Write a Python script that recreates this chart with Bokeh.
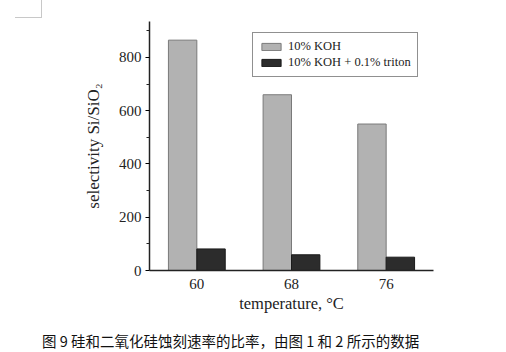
from bokeh.plotting import figure
from bokeh.models import ColumnDataSource, FactorRange, Legend, LegendItem, Div, FixedTicker
from bokeh.layouts import column
from bokeh.transform import dodge
from bokeh.embed import file_html
from bokeh.resources import INLINE

temps = ["60", "68", "76"]
koh = [865, 660, 550]
koh_triton = [81, 59, 50]
series_labels = ["10% KOH", "10% KOH + 0.1% triton"]
caption = "图 9 硅和二氧化硅蚀刻速率的比率，由图 1 和 2 所示的数据"

src = ColumnDataSource(dict(t=temps, a=koh, b=koh_triton))

p = figure(width=506, height=322, x_range=FactorRange(*temps, range_padding=0),
           y_range=(0, 935), output_backend="svg", toolbar_location=None,
           min_border_left=149, min_border_right=73, min_border_top=21, min_border_bottom=52)
p.outline_line_color = None
p.grid.visible = False
p.background_fill_color = "white"
p.border_fill_color = "white"

r1 = p.vbar(x=dodge("t", -0.15, range=p.x_range), top="a", width=0.3, source=src,
            fill_color="#b2b2b2", line_color="#7a7a7a", line_width=1)
r2 = p.vbar(x=dodge("t", 0.15, range=p.x_range), top="b", width=0.3, source=src,
            fill_color="#2c2c2c", line_color="#1a1a1a", line_width=1)

serif = "Liberation Serif"
for ax in (p.xaxis[0], p.yaxis[0]):
    ax.axis_line_width = 1.5
    ax.axis_line_color = "#222222"
    ax.major_label_text_font = serif
    ax.major_label_text_font_size = "15px"
    ax.major_label_text_color = "#222222"
    ax.axis_label_text_font = serif
    ax.axis_label_text_font_style = "normal"
    ax.axis_label_text_color = "#222222"

p.xaxis.axis_label = "temperature, °C"
p.xaxis.axis_label_text_font_size = "16.5px"
p.xaxis.major_tick_line_color = None
p.xaxis.minor_tick_line_color = None
p.xaxis.major_label_standoff = 2
p.xaxis.axis_label_standoff = 2

p.yaxis.axis_label = "selectivity Si/SiO\u2082"
p.yaxis.axis_label_text_font_size = "17px"
p.yaxis[0].ticker = FixedTicker(ticks=[0, 200, 400, 600, 800],
                                minor_ticks=[100, 300, 500, 700, 900])
p.yaxis.major_tick_in = 0
p.yaxis.major_tick_out = 4
p.yaxis.major_tick_line_width = 1.2
p.yaxis.major_label_standoff = 4
p.yaxis.axis_label_standoff = 13
p.yaxis.minor_tick_in = 0
p.yaxis.minor_tick_out = 3
p.yaxis.minor_tick_line_color = "#222222"

legend = Legend(items=[LegendItem(label=series_labels[0], renderers=[r1]),
                       LegendItem(label=series_labels[1], renderers=[r2])],
                location=(103, 193))
legend.label_text_font = serif
legend.label_text_font_size = "12.5px"
legend.label_text_color = "#222222"
legend.glyph_width = 24
legend.glyph_height = 9
legend.label_height = 13
legend.spacing = 1
legend.padding = 6
legend.label_standoff = 5
legend.border_line_color = "#222222"
legend.border_line_width = 1.2
legend.background_fill_alpha = 1
legend.margin = 0
p.add_layout(legend, "center")

cap = Div(width=506, height=30,
          text=('<div style="position:relative;width:506px;height:30px;">'
                '<div style="position:absolute;left:15px;top:-322px;width:27px;height:18px;'
                'border-right:1px solid #c8c8c8;border-bottom:1px solid #c8c8c8;"></div>'
                '<div style="position:absolute;left:42px;top:10px;white-space:nowrap;'
                'font-family:\'Noto Sans CJK SC\';font-size:14.5px;line-height:17px;color:#111;">'
                + caption + '</div></div>'),
          styles={"overflow": "visible", "margin": "0", "padding": "0"})

layout = column(p, cap, spacing=0)
open("out.html", "w").write(file_html(layout, INLINE))
